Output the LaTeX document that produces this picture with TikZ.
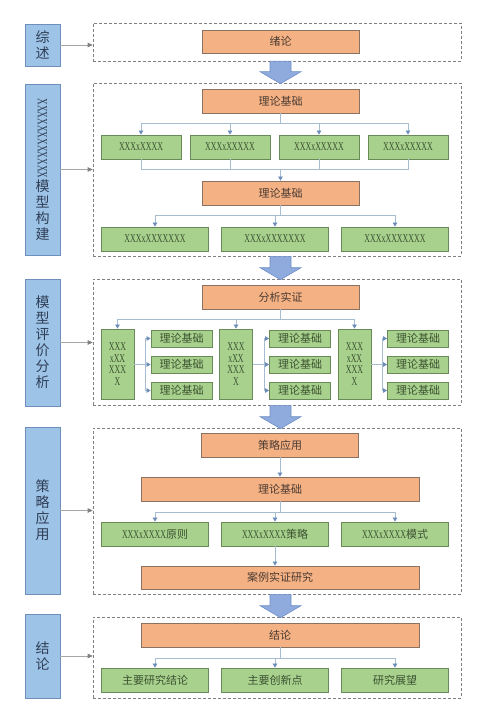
\documentclass[tikz,border=0pt]{standalone}
\usepackage{fontspec}
\setmainfont[FakeStretch=0.66]{Liberation Serif}
\newfontfamily\cjk{Noto Sans CJK SC}
\newfontfamily\lat[FakeStretch=0.66]{Liberation Serif}
\usepackage{graphicx}
\usepackage{xcolor}
\usepackage{tikz}
\usetikzlibrary{arrows.meta, calc}

\definecolor{orangefill}{HTML}{F4B183}
\definecolor{orangeline}{HTML}{8B7263}
\definecolor{orangetext}{HTML}{4A3B33}
\definecolor{greenfill}{HTML}{A9D18E}
\definecolor{greenline}{HTML}{6B8A5A}
\definecolor{greentext}{HTML}{3B5230}
\definecolor{bluefill}{HTML}{9DC3E6}
\definecolor{blueline}{HTML}{6E8EBB}
\definecolor{labeltext}{HTML}{2F3E56}
\definecolor{linkline}{HTML}{A8BCD0}
\definecolor{tipblue}{HTML}{6C8DB8}
\definecolor{arrowfill}{HTML}{8FAADC}
\definecolor{arrowline}{HTML}{7090C8}
\definecolor{dashgray}{HTML}{808080}

\tikzset{
  orangebox/.style={draw=orangeline, fill=orangefill, line width=0.8pt, text=orangetext,
    font=\cjk\fontsize{11}{13}\selectfont, minimum height=24pt, inner sep=0pt},
  greenbox/.style={draw=greenline, fill=greenfill, line width=0.8pt, text=greentext,
    font=\fontsize{12}{13}\selectfont, minimum height=24pt, inner sep=0pt},
  tallbox/.style={greenbox, minimum width=33pt, minimum height=70pt, align=center,
    font=\fontsize{12}{11.7}\selectfont},
  smallbox/.style={greenbox, font=\cjk\fontsize{11}{13}\selectfont, minimum width=61pt, minimum height=17pt},
  labelbox/.style={draw=blueline, fill=bluefill, line width=0.8pt, text=labeltext,
    font=\cjk\fontsize{14}{16}\selectfont, minimum width=35pt, align=center, inner sep=0pt},
  dashbox/.style={draw=dashgray, dash pattern=on 3pt off 2pt, line width=0.6pt,
    minimum width=368pt, inner sep=0pt},
  link/.style={draw=linkline, line width=0.7pt},
  linkarrow/.style={link, -{Triangle[length=4pt,width=4.5pt,color=tipblue]}},
  sidearrow/.style={draw=gray!70, line width=0.6pt, -{Triangle[length=5pt,width=4.5pt,color=gray]}},
  bigarrow/.style={fill=arrowfill, draw=arrowline, line width=0.6pt},
}

% block arrow from one dashed frame down to the next
\newcommand{\blockarrow}[2]{%
  \draw[bigarrow] ($(o1.south |- #1.south)+(-10.5,0)$) -- ($(o1.south |- #2.north)+(-10.5,-11)$)
    -- ++(-10,0) -- ($(o1.south |- #2.north)+(0,1)$) -- ++(20.5,-12) -- ++(-10,0)
    -- ($(o1.south |- #1.south)+(10.5,0)$) -- cycle;}

\begin{document}
\begin{tikzpicture}[x=1pt, y=-1pt]
\path[use as bounding box, fill=white] (0,0) rectangle (500,708);

% Left stage labels
\node[labelbox, minimum height=42pt] (l1) at (42.5,45) {综\\述};
\node[labelbox, minimum height=171pt] (l2) at (42.5,169.5)
  {\rotatebox{-90}{\lat\fontsize{14}{14}\selectfont XXXXXXXXXXXX}\\模\\型\\构\\建};
\node[labelbox, minimum height=127pt] (l3) at (42.5,342.5) {模\\型\\评\\价\\分\\析};
\node[labelbox, minimum height=167pt] (l4) at (42.5,510.5) {策\\略\\应\\用};
\node[labelbox, minimum height=84pt] (l5) at (42.5,656) {结\\论};

% Dashed frames
\node[dashbox, minimum height=38pt] (d1) at (277,42) {};
\node[dashbox, minimum height=173pt] (d2) at (277,169.5) {};
\node[dashbox, minimum height=126pt] (d3) at (277,342) {};
\node[dashbox, minimum height=166pt] (d4) at (277,511) {};
\node[dashbox, minimum height=81pt] (d5) at (277,657.5) {};

\foreach \i in {1,...,5}
  \draw[sidearrow] (l\i.east) -- (l\i.east -| d\i.west);

% Stage 1
\node[orangebox, minimum width=157pt, minimum height=23pt] (o1) at (280.5,41.5) {绪论};

% Stage 2
\node[orangebox, minimum width=157pt] (o2) at (280.5,101) {理论基础};
\node[greenbox, minimum width=80pt] (g21) at (141,147) {XXXxXXXX};
\node[greenbox, minimum width=80pt] (g22) at (230,147) {XXXxXXXXX};
\node[greenbox, minimum width=80pt] (g23) at (319,147) {XXXxXXXXX};
\node[greenbox, minimum width=80pt] (g24) at (408,147) {XXXxXXXXX};
\node[orangebox, minimum width=157pt] (o3) at (280.5,193) {理论基础};
\node[greenbox, minimum width=107pt] (g25) at (155,239) {XXXxXXXXXXX};
\node[greenbox, minimum width=107pt] (g26) at (275,239) {XXXxXXXXXXX};
\node[greenbox, minimum width=107pt] (g27) at (395,239) {XXXxXXXXXXX};

\coordinate (bus2) at (280.5,123);
\coordinate (col2) at (280.5,169);
\coordinate (bus3) at (280.5,215);
\foreach \g in {g21,g22,g23,g24}
  \draw[linkarrow] (o2.south) |- (bus2 -| \g.north) -- (\g.north);
\foreach \g in {g21,g22,g23,g24}
  \draw[link] (\g.south) |- (col2);
\draw[linkarrow] (col2) -- (o3.north);
\foreach \g in {g25,g26,g27}
  \draw[linkarrow] (o3.south) |- (bus3 -| \g.north) -- (\g.north);

% Stage 3
\node[orangebox, minimum width=157pt] (o4) at (280.5,297) {分析实证};
\node[tallbox] (t1) at (117.5,364) {XXX\\xXX\\XXX\\X};
\node[tallbox] (t2) at (236,364) {XXX\\xXX\\XXX\\X};
\node[tallbox] (t3) at (354.5,364) {XXX\\xXX\\XXX\\X};
\foreach \c/\x in {1/181.5,2/300,3/418}
  \foreach \r/\y in {1/338.5,2/364.5,3/390.5}
    \node[smallbox] (s\c\r) at (\x,\y) {理论基础};

\coordinate (bus4) at (280.5,319);
\foreach \t in {t1,t2,t3}
  \draw[linkarrow] (o4.south) |- (bus4 -| \t.north) -- (\t.north);
\foreach \c in {1,2,3}
  \foreach \r in {1,2,3}
    \draw[linkarrow] (t\c.east) -- ++(11,0) |- (s\c\r.west);

% Stage 4
\node[orangebox, minimum width=157pt] (o5) at (280,445) {策略应用};
\node[orangebox, minimum width=278pt] (o6) at (280,489) {理论基础};
\node[greenbox, minimum width=107pt] (g41) at (155,534) {XXXxXXXX{\cjk\fontsize{11}{13}\selectfont 原则}};
\node[greenbox, minimum width=107pt] (g42) at (275,534) {XXXxXXXX{\cjk\fontsize{11}{13}\selectfont 策略}};
\node[greenbox, minimum width=107pt] (g43) at (395,534) {XXXxXXXX{\cjk\fontsize{11}{13}\selectfont 模式}};
\node[orangebox, minimum width=278pt, minimum height=23pt] (o7) at (280,577.5) {案例实证研究};

\coordinate (bus5) at (280,512);
\draw[linkarrow] (o5.south) -- (o6.north);
\foreach \g in {g41,g42,g43}
  \draw[linkarrow] (o6.south) |- (bus5 -| \g.north) -- (\g.north);
\draw[linkarrow] (g42.south) -- (g42.south |- o7.north);

% Stage 5
\node[orangebox, minimum width=278pt] (o8) at (280,635) {结论};
\node[greenbox, font=\cjk\fontsize{11}{13}\selectfont, minimum width=107pt] (g51) at (155,680) {主要研究结论};
\node[greenbox, font=\cjk\fontsize{11}{13}\selectfont, minimum width=107pt] (g52) at (275,680) {主要创新点};
\node[greenbox, font=\cjk\fontsize{11}{13}\selectfont, minimum width=107pt] (g53) at (395,680) {研究展望};

\coordinate (bus6) at (280,658);
\foreach \g in {g51,g52,g53}
  \draw[linkarrow] (o8.south) |- (bus6 -| \g.north) -- (\g.north);

% Block arrows between stages
\blockarrow{d1}{d2}
\blockarrow{d2}{d3}
\blockarrow{d3}{d4}
\blockarrow{d4}{d5}

\end{tikzpicture}
\end{document}
